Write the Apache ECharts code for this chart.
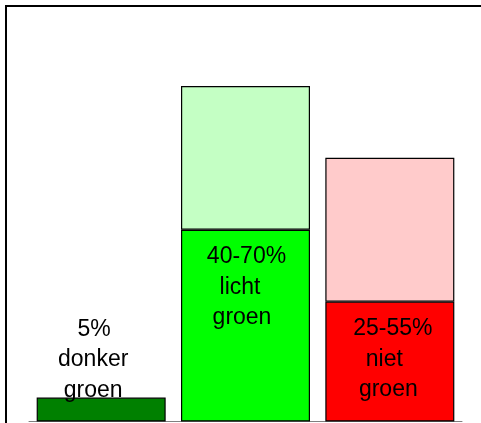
<!DOCTYPE html>
<html>
<head>
<meta charset="utf-8">
<script src="https://cdn.jsdelivr.net/npm/echarts@6/dist/echarts.min.js"></script>
<style>
html,body{margin:0;padding:0;background:#fff;}
#chart{width:481px;height:423px;}
</style>
</head>
<body>
<div id="chart"></div>
<script>
// ---- data ----
var categories = ['donker groen', 'licht groen', 'niet groen'];
var lowerValues = [5, 40, 25];      // lower bound (%)
var upperExtra = [null, 30, 30];    // range above lower bound (upper - lower)
var labelLines = [
  ['5%', 'donker', 'groen'],
  ['40-70%', 'licht', 'groen'],
  ['25-55%', 'niet', 'groen']
];

// ---- styles ----
var lowerColors = ['#008000', '#00FF00', '#FF0000'];
var upperColors = ['#C4FFC4', '#C4FFC4', '#FFCBCB'];
var linePads = [
  [[0,0,0,2],[0,0,0,0],[0,0,0,0]],
  [[0,0,0,2],[0,11,0,0],[0,7,0,0]],
  [[0,0,0,6],[0,11,0,0],[0,3,0,0]]
];
var FONT = '"Liberation Sans", Arial, sans-serif';

function makeLabel(i) {
  var rich = {};
  var parts = labelLines[i].map(function (t, j) {
    var k = 'l' + j;
    rich[k] = {
      fontSize: 23, lineHeight: 30.5, color: '#000', fontFamily: FONT,
      padding: linePads[i][j]
    };
    return '{' + k + '|' + t + '}';
  });
  var lab = {
    show: true,
    formatter: parts.join('\n'),
    rich: rich,
    align: 'center'
  };
  if (i === 0) {
    lab.position = 'top';
    lab.distance = 0;
    lab.offset = [-8, 8];
  } else {
    lab.position = 'insideTop';
    lab.distance = 12;
  }
  return lab;
}

var lowerData = lowerValues.map(function (v, i) {
  return { value: v, itemStyle: { color: lowerColors[i] }, label: makeLabel(i) };
});
var upperData = upperExtra.map(function (v, i) {
  return { value: v, itemStyle: { color: upperColors[i] } };
});

var chart = echarts.init(document.getElementById('chart'), null, { renderer: 'canvas' });
chart.setOption({
  animation: false,
  backgroundColor: '#fff',
  grid: { left: 29, right: 19, top: 38, bottom: 1.5 },
  xAxis: {
    type: 'category',
    data: categories,
    axisLine: { show: true, lineStyle: { color: '#808080', width: 1 } },
    axisTick: { show: false },
    axisLabel: { show: false }
  },
  yAxis: {
    type: 'value', min: 0, max: 80,
    show: false
  },
  series: [
    {
      type: 'bar', stack: 'r', barWidth: 129,
      data: lowerData,
      itemStyle: { borderColor: '#000', borderWidth: 1.2 },
      z: 2
    },
    {
      type: 'bar', stack: 'r', barWidth: 129,
      data: upperData,
      itemStyle: { borderColor: '#000', borderWidth: 1.2 },
      z: 1
    }
  ],
  graphic: [
    {
      type: 'rect', z: 100, silent: true,
      shape: { x: 6, y: 6, width: 600, height: 600 },
      style: { fill: 'none', stroke: '#000', lineWidth: 2 }
    }
  ]
});
</script>
</body>
</html>
